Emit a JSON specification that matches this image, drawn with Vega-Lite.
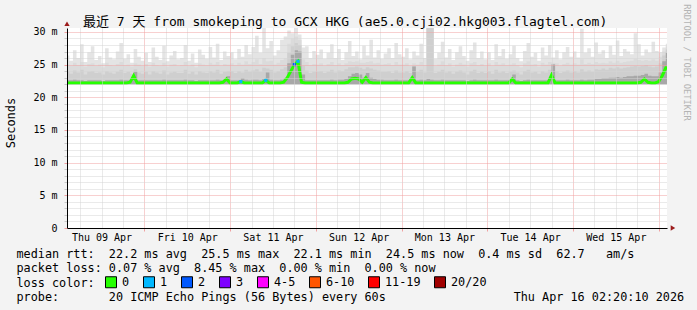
{
  "$schema": "https://vega.github.io/schema/vega-lite/v6.json",
  "width": 600,
  "height": 200,
  "autosize": {"type": "none"},
  "padding": {"left": 67, "top": 28, "right": 30, "bottom": 82},
  "background": "#f3f3f3",
  "config": {
    "font": "DejaVu Sans Mono",
    "view": {"stroke": null, "fill": "white"}
  },
  "title": {
    "text": "最近 7 天 from smokeping to GCX HKG (ae5.0.cji02.hkg003.flagtel.com)",
    "anchor": "start",
    "frame": "group",
    "dx": 16,
    "offset": -35,
    "baseline": "alphabetic",
    "font": "DejaVu Sans Mono, Noto Sans CJK SC",
    "fontSize": 13,
    "fontWeight": "normal",
    "color": "#000000"
  },
  "data": {
    "values": [
      {"h":2,"m":22.2,"l":"0","d":22.6,"a":23.9,"b":25.0,"c":26.4},
      {"h":3,"m":22.2,"l":"0","d":22.6,"a":23.6,"b":24.8,"c":25.6},
      {"h":4,"m":22.2,"l":"0","d":22.7,"a":24.1,"b":25.3,"c":27.2},
      {"h":5,"m":22.2,"l":"0","d":22.6,"a":23.8,"b":24.9,"c":26.0},
      {"h":6,"m":22.2,"l":"0","d":22.6,"a":24.2,"b":25.4,"c":28.1},
      {"h":7,"m":22.2,"l":"0","d":22.5,"a":23.5,"b":24.7,"c":25.4},
      {"h":8,"m":22.2,"l":"0","d":22.6,"a":23.9,"b":25.1,"c":26.9},
      {"h":9,"m":22.2,"l":"0","d":22.6,"a":24.0,"b":25.2,"c":27.8},
      {"h":10,"m":22.2,"l":"0","d":22.6,"a":23.7,"b":24.8,"c":25.7},
      {"h":11,"m":22.2,"l":"0","d":22.6,"a":23.8,"b":25.0,"c":26.3},
      {"h":12,"m":22.2,"l":"0","d":22.5,"a":23.5,"b":24.6,"c":25.2},
      {"h":13,"m":22.2,"l":"0","d":22.6,"a":24.0,"b":25.3,"c":27.5},
      {"h":14,"m":22.2,"l":"0","d":22.6,"a":23.8,"b":24.9,"c":26.1},
      {"h":15,"m":22.2,"l":"0","d":22.6,"a":23.6,"b":24.8,"c":25.8},
      {"h":16,"m":22.2,"l":"0","d":22.6,"a":23.9,"b":25.1,"c":27.0},
      {"h":17,"m":22.2,"l":"0","d":22.7,"a":24.2,"b":25.4,"c":28.3},
      {"h":18,"m":22.2,"l":"0","d":22.6,"a":23.7,"b":24.9,"c":25.9},
      {"h":19,"m":22.2,"l":"0","d":22.6,"a":23.9,"b":25.0,"c":26.6},
      {"h":20,"m":22.3,"l":"0","d":22.7,"a":23.6,"b":24.7,"c":25.3},
      {"h":21,"m":23.3,"l":"0","d":23.9,"a":24.3,"b":25.2,"c":27.4},
      {"h":22,"m":22.2,"l":"0","d":22.6,"a":23.8,"b":25.0,"c":26.2},
      {"h":23,"m":22.2,"l":"0","d":22.6,"a":23.6,"b":24.8,"c":25.6},
      {"h":24,"m":22.2,"l":"0","d":22.6,"a":23.9,"b":25.1,"c":26.8},
      {"h":25,"m":22.2,"l":"0","d":22.6,"a":23.5,"b":24.7,"c":25.4},
      {"h":26,"m":22.2,"l":"0","d":22.6,"a":24.0,"b":25.3,"c":27.6},
      {"h":27,"m":22.2,"l":"0","d":22.6,"a":23.8,"b":24.9,"c":26.2},
      {"h":28,"m":22.2,"l":"0","d":22.6,"a":23.6,"b":24.8,"c":25.7},
      {"h":29,"m":22.2,"l":"0","d":22.7,"a":24.1,"b":25.3,"c":27.9},
      {"h":30,"m":22.2,"l":"0","d":22.6,"a":23.5,"b":24.7,"c":25.5},
      {"h":31,"m":22.2,"l":"0","d":22.6,"a":23.8,"b":25.0,"c":26.4},
      {"h":32,"m":22.2,"l":"0","d":22.6,"a":23.9,"b":25.1,"c":27.1},
      {"h":33,"m":22.2,"l":"0","d":22.6,"a":23.7,"b":24.8,"c":25.8},
      {"h":34,"m":22.2,"l":"0","d":22.6,"a":23.7,"b":24.9,"c":26.0},
      {"h":35,"m":22.2,"l":"0","d":22.7,"a":24.2,"b":25.4,"c":28.0},
      {"h":36,"m":22.2,"l":"0","d":22.6,"a":23.6,"b":24.8,"c":25.6},
      {"h":37,"m":22.2,"l":"0","d":22.6,"a":23.9,"b":25.0,"c":26.7},
      {"h":38,"m":22.2,"l":"0","d":22.5,"a":23.5,"b":24.6,"c":25.3},
      {"h":39,"m":22.2,"l":"0","d":22.6,"a":24.0,"b":25.2,"c":27.3},
      {"h":40,"m":22.2,"l":"0","d":22.6,"a":23.8,"b":25.0,"c":26.5},
      {"h":41,"m":22.2,"l":"0","d":22.6,"a":23.7,"b":24.9,"c":25.9},
      {"h":42,"m":22.2,"l":"0","d":22.6,"a":24.0,"b":25.3,"c":27.7},
      {"h":43,"m":22.2,"l":"0","d":22.6,"a":23.8,"b":25.0,"c":26.1},
      {"h":44,"m":22.2,"l":"0","d":22.7,"a":24.2,"b":25.4,"c":28.2},
      {"h":45,"m":22.2,"l":"0","d":22.6,"a":23.6,"b":24.8,"c":25.7},
      {"h":46,"m":22.3,"l":"0","d":22.7,"a":23.9,"b":25.1,"c":27.0},
      {"h":47,"m":22.8,"l":"0","d":23.2,"a":24.0,"b":25.0,"c":26.3},
      {"h":48,"m":22.2,"l":"0","d":22.6,"a":24.0,"b":25.2,"c":26.9},
      {"h":49,"m":22.2,"l":"0","d":22.6,"a":23.7,"b":24.9,"c":25.8},
      {"h":50,"m":22.2,"l":"0","d":22.6,"a":24.0,"b":25.3,"c":27.4},
      {"h":51,"m":22.4,"l":"1","d":22.9,"a":23.8,"b":25.0,"c":26.2},
      {"h":52,"m":22.2,"l":"0","d":22.7,"a":24.2,"b":25.5,"c":28.0},
      {"h":53,"m":22.2,"l":"0","d":22.6,"a":23.9,"b":25.1,"c":26.6},
      {"h":54,"m":22.2,"l":"0","d":22.7,"a":24.1,"b":25.4,"c":27.7},
      {"h":55,"m":22.2,"l":"0","d":22.7,"a":24.3,"b":25.8,"c":29.4},
      {"h":56,"m":22.2,"l":"0","d":22.6,"a":23.9,"b":25.1,"c":26.8},
      {"h":57,"m":22.2,"l":"0","d":22.8,"a":24.5,"b":26.0,"c":30.8},
      {"h":58,"m":22.6,"l":"1","d":23.8,"a":24.4,"b":25.5,"c":27.5},
      {"h":59,"m":22.2,"l":"0","d":22.7,"a":24.2,"b":25.6,"c":28.6},
      {"h":60,"m":22.2,"l":"0","d":22.6,"a":23.8,"b":25.0,"c":26.4},
      {"h":61,"m":22.2,"l":"0","d":22.6,"a":24.0,"b":25.3,"c":27.2},
      {"h":62,"m":22.2,"l":"0","d":22.7,"a":24.3,"b":25.7,"c":28.8},
      {"h":63,"m":22.3,"l":"0","d":22.9,"a":24.6,"b":26.0,"c":29.3},
      {"h":64,"m":23.0,"l":"0","d":25.2,"a":26.8,"b":28.2,"c":30.2},
      {"h":65,"m":24.0,"l":"0","d":26.5,"a":27.8,"b":29.0,"c":29.8},
      {"h":66,"m":25.0,"l":"2","d":27.2,"a":28.3,"b":29.3,"c":30.8},
      {"h":67,"m":25.5,"l":"1","d":27.0,"a":28.0,"b":28.8,"c":29.6},
      {"h":68,"m":22.3,"l":"0","d":23.5,"a":24.8,"b":25.8,"c":27.6},
      {"h":69,"m":22.2,"l":"0","d":22.6,"a":24.1,"b":25.4,"c":27.8},
      {"h":70,"m":22.2,"l":"0","d":22.6,"a":23.7,"b":24.9,"c":26.0},
      {"h":71,"m":22.2,"l":"0","d":22.6,"a":23.9,"b":25.1,"c":27.1},
      {"h":72,"m":22.2,"l":"0","d":22.6,"a":23.9,"b":25.0,"c":26.5},
      {"h":73,"m":22.2,"l":"0","d":22.6,"a":24.0,"b":25.2,"c":27.3},
      {"h":74,"m":22.2,"l":"0","d":22.6,"a":23.7,"b":24.8,"c":25.9},
      {"h":75,"m":22.2,"l":"0","d":22.6,"a":23.9,"b":25.1,"c":26.8},
      {"h":76,"m":22.2,"l":"0","d":22.7,"a":24.2,"b":25.4,"c":28.1},
      {"h":77,"m":22.2,"l":"0","d":22.6,"a":23.8,"b":24.9,"c":26.0},
      {"h":78,"m":22.2,"l":"0","d":22.7,"a":24.1,"b":25.2,"c":27.4},
      {"h":79,"m":22.2,"l":"0","d":22.7,"a":24.0,"b":24.9,"c":25.7},
      {"h":80,"m":22.2,"l":"0","d":22.8,"a":24.3,"b":25.2,"c":26.9},
      {"h":81,"m":22.3,"l":"0","d":23.2,"a":24.6,"b":25.5,"c":28.6},
      {"h":82,"m":22.8,"l":"0","d":23.6,"a":24.6,"b":25.4,"c":26.3},
      {"h":83,"m":22.9,"l":"0","d":23.7,"a":24.7,"b":25.5,"c":27.0},
      {"h":84,"m":22.8,"l":"0","d":23.5,"a":24.5,"b":25.3,"c":25.8},
      {"h":85,"m":22.3,"l":"0","d":23.0,"a":24.3,"b":25.3,"c":27.9},
      {"h":86,"m":23.0,"l":"0","d":23.7,"a":24.6,"b":25.4,"c":26.4},
      {"h":87,"m":22.3,"l":"0","d":23.0,"a":24.4,"b":25.5,"c":28.8},
      {"h":88,"m":22.2,"l":"0","d":22.8,"a":24.2,"b":25.2,"c":26.1},
      {"h":89,"m":22.2,"l":"0","d":22.7,"a":24.1,"b":25.3,"c":27.2},
      {"h":90,"m":22.2,"l":"0","d":22.7,"a":23.9,"b":25.0,"c":25.9},
      {"h":91,"m":22.2,"l":"0","d":22.6,"a":23.9,"b":25.1,"c":26.7},
      {"h":92,"m":22.2,"l":"0","d":22.6,"a":24.0,"b":25.2,"c":27.5},
      {"h":93,"m":22.2,"l":"0","d":22.6,"a":23.7,"b":24.9,"c":26.0},
      {"h":94,"m":22.2,"l":"0","d":22.7,"a":24.1,"b":25.4,"c":28.3},
      {"h":95,"m":22.2,"l":"0","d":22.6,"a":23.8,"b":25.0,"c":26.6},
      {"h":96,"m":22.2,"l":"0","d":22.6,"a":23.8,"b":25.0,"c":26.2},
      {"h":97,"m":22.2,"l":"0","d":22.6,"a":24.0,"b":25.2,"c":27.5},
      {"h":98,"m":22.2,"l":"0","d":22.6,"a":23.7,"b":24.8,"c":25.8},
      {"h":99,"m":23.0,"l":"0","d":24.7,"a":24.8,"b":25.2,"c":27.0},
      {"h":100,"m":22.2,"l":"0","d":22.6,"a":23.9,"b":25.0,"c":26.4},
      {"h":101,"m":22.2,"l":"0","d":22.7,"a":24.2,"b":25.4,"c":28.2},
      {"h":102,"m":22.2,"l":"0","d":22.6,"a":23.8,"b":24.9,"c":26.0},
      {"h":103,"m":22.2,"l":"0","d":22.8,"a":31.0,"b":31.0,"c":31.0},
      {"h":104,"m":22.2,"l":"0","d":22.7,"a":31.0,"b":31.0,"c":31.0},
      {"h":105,"m":22.2,"l":"0","d":22.6,"a":23.7,"b":24.8,"c":25.9},
      {"h":106,"m":22.2,"l":"0","d":22.6,"a":23.9,"b":25.0,"c":26.8},
      {"h":107,"m":22.2,"l":"0","d":22.7,"a":24.2,"b":25.5,"c":28.5},
      {"h":108,"m":22.2,"l":"0","d":22.6,"a":23.8,"b":24.9,"c":26.1},
      {"h":109,"m":22.2,"l":"0","d":22.6,"a":24.0,"b":25.2,"c":27.4},
      {"h":110,"m":22.2,"l":"0","d":22.6,"a":23.6,"b":24.7,"c":25.7},
      {"h":111,"m":22.2,"l":"0","d":22.6,"a":23.9,"b":25.0,"c":26.9},
      {"h":112,"m":22.2,"l":"0","d":22.6,"a":24.1,"b":25.3,"c":27.8},
      {"h":113,"m":22.2,"l":"0","d":22.6,"a":23.8,"b":25.0,"c":26.3},
      {"h":114,"m":22.2,"l":"0","d":22.5,"a":23.5,"b":24.7,"c":25.6},
      {"h":115,"m":22.2,"l":"0","d":22.6,"a":24.0,"b":25.2,"c":27.2},
      {"h":116,"m":22.2,"l":"0","d":22.7,"a":24.2,"b":25.4,"c":28.4},
      {"h":117,"m":22.2,"l":"0","d":22.6,"a":23.7,"b":24.9,"c":26.0},
      {"h":118,"m":22.2,"l":"0","d":22.6,"a":23.9,"b":25.1,"c":27.0},
      {"h":119,"m":22.2,"l":"0","d":22.6,"a":23.7,"b":24.8,"c":25.8},
      {"h":120,"m":22.2,"l":"0","d":22.6,"a":24.0,"b":25.2,"c":26.9},
      {"h":121,"m":22.2,"l":"0","d":22.6,"a":23.6,"b":24.8,"c":25.7},
      {"h":122,"m":22.2,"l":"0","d":22.7,"a":24.2,"b":25.4,"c":28.1},
      {"h":123,"m":22.2,"l":"0","d":22.6,"a":23.8,"b":25.0,"c":26.3},
      {"h":124,"m":22.2,"l":"0","d":22.6,"a":24.0,"b":25.2,"c":27.4},
      {"h":125,"m":22.2,"l":"0","d":22.6,"a":23.7,"b":24.9,"c":25.9},
      {"h":126,"m":22.2,"l":"0","d":22.6,"a":23.9,"b":25.0,"c":26.6},
      {"h":127,"m":22.8,"l":"0","d":23.5,"a":24.1,"b":25.2,"c":27.9},
      {"h":128,"m":22.2,"l":"0","d":22.6,"a":23.8,"b":24.9,"c":26.0},
      {"h":129,"m":22.2,"l":"0","d":22.5,"a":23.5,"b":24.6,"c":25.5},
      {"h":130,"m":22.2,"l":"0","d":22.6,"a":24.0,"b":25.2,"c":27.1},
      {"h":131,"m":22.2,"l":"0","d":22.7,"a":24.2,"b":25.5,"c":28.3},
      {"h":132,"m":22.2,"l":"0","d":22.6,"a":23.8,"b":25.0,"c":26.2},
      {"h":133,"m":22.2,"l":"0","d":22.6,"a":23.9,"b":25.1,"c":26.8},
      {"h":134,"m":22.2,"l":"0","d":22.6,"a":23.6,"b":24.7,"c":25.6},
      {"h":135,"m":22.2,"l":"0","d":22.6,"a":24.0,"b":25.3,"c":27.6},
      {"h":136,"m":22.2,"l":"0","d":22.6,"a":23.8,"b":25.0,"c":26.4},
      {"h":137,"m":22.2,"l":"0","d":22.7,"a":24.2,"b":25.4,"c":28.0},
      {"h":138,"m":23.4,"l":"0","d":25.0,"a":25.1,"b":25.3,"c":26.1},
      {"h":139,"m":22.2,"l":"0","d":22.6,"a":24.0,"b":25.2,"c":27.2},
      {"h":140,"m":22.2,"l":"0","d":22.6,"a":23.7,"b":24.8,"c":25.8},
      {"h":141,"m":22.2,"l":"0","d":22.6,"a":23.9,"b":25.1,"c":26.9},
      {"h":142,"m":22.2,"l":"0","d":22.7,"a":24.1,"b":25.3,"c":27.7},
      {"h":143,"m":22.2,"l":"0","d":22.6,"a":23.8,"b":25.0,"c":26.2},
      {"h":144,"m":22.2,"l":"0","d":22.6,"a":24.0,"b":25.2,"c":27.0},
      {"h":145,"m":22.2,"l":"0","d":22.6,"a":23.8,"b":25.0,"c":26.1},
      {"h":146,"m":22.2,"l":"0","d":22.7,"a":24.3,"b":25.8,"c":30.5},
      {"h":147,"m":22.2,"l":"0","d":22.6,"a":23.9,"b":25.1,"c":26.8},
      {"h":148,"m":22.2,"l":"0","d":22.7,"a":24.1,"b":25.3,"c":27.5},
      {"h":149,"m":22.2,"l":"0","d":22.7,"a":23.9,"b":25.1,"c":26.2},
      {"h":150,"m":22.2,"l":"0","d":22.8,"a":24.3,"b":25.4,"c":28.4},
      {"h":151,"m":22.2,"l":"0","d":22.8,"a":24.2,"b":25.2,"c":26.7},
      {"h":152,"m":22.2,"l":"0","d":22.9,"a":24.4,"b":25.3,"c":27.2},
      {"h":153,"m":22.2,"l":"0","d":22.9,"a":24.2,"b":25.2,"c":26.0},
      {"h":154,"m":22.2,"l":"0","d":23.0,"a":24.5,"b":25.5,"c":27.9},
      {"h":155,"m":22.2,"l":"0","d":23.0,"a":24.4,"b":25.3,"c":26.5},
      {"h":156,"m":22.2,"l":"0","d":23.1,"a":24.6,"b":25.6,"c":28.7},
      {"h":157,"m":22.2,"l":"0","d":23.0,"a":24.4,"b":25.3,"c":26.3},
      {"h":158,"m":22.2,"l":"0","d":23.1,"a":24.5,"b":25.4,"c":27.4},
      {"h":159,"m":22.2,"l":"0","d":23.2,"a":24.6,"b":25.5,"c":27.0},
      {"h":160,"m":22.2,"l":"0","d":23.2,"a":24.7,"b":25.6,"c":26.6},
      {"h":161,"m":22.2,"l":"0","d":23.3,"a":24.8,"b":25.9,"c":29.8},
      {"h":162,"m":22.2,"l":"0","d":23.3,"a":24.7,"b":25.7,"c":28.1},
      {"h":163,"m":22.3,"l":"0","d":23.4,"a":24.8,"b":25.6,"c":26.4},
      {"h":164,"m":22.8,"l":"0","d":23.6,"a":24.9,"b":25.7,"c":27.3},
      {"h":165,"m":22.3,"l":"0","d":23.3,"a":24.7,"b":25.6,"c":26.8},
      {"h":166,"m":22.2,"l":"0","d":23.2,"a":24.6,"b":25.8,"c":28.5},
      {"h":167,"m":22.2,"l":"0","d":23.2,"a":24.7,"b":25.6,"c":27.1},
      {"h":168,"m":22.4,"l":"0","d":23.8,"a":25.2,"b":26.2,"c":26.9},
      {"h":169,"m":23.3,"l":"0","d":25.5,"a":26.4,"b":27.0,"c":27.6},
      {"h":170,"m":24.5,"l":"0","d":26.8,"a":27.3,"b":27.8,"c":28.2},
      {"h":171,"m":24.5,"l":"0","d":26.8,"a":27.3,"b":27.8,"c":28.2}
    ]
  },
  "encoding": {
    "x": {
      "field": "h", "type": "quantitative",
      "scale": {"domain": [2.333, 170.333], "nice": false, "zero": false},
      "axis": {
        "values": [6,12,18,24,30,36,42,48,54,60,66,72,78,84,90,96,102,108,114,120,126,132,138,144,150,156,162,168],
        "labelExpr": "round(datum.value) == 12 ? 'Thu 09 Apr' : round(datum.value) == 36 ? 'Fri 10 Apr' : round(datum.value) == 60 ? 'Sat 11 Apr' : round(datum.value) == 84 ? 'Sun 12 Apr' : round(datum.value) == 108 ? 'Mon 13 Apr' : round(datum.value) == 132 ? 'Tue 14 Apr' : round(datum.value) == 156 ? 'Wed 15 Apr' : ''",
        "labelFont": "DejaVu Sans Mono", "labelFontSize": 10, "labelColor": "#000000",
        "labelPadding": 1, "labelOverlap": false, "labelFlush": false, "labelBound": false,
        "grid": true,
        "gridColor": {"condition": {"test": "round(datum.value) % 24 == 0", "value": "#f0a0a0"}, "value": "#d4d4d4"},
        "gridDash": [1, 1], "gridWidth": 1, "gridOpacity": 1,
        "tickSize": 3,
        "tickColor": {"condition": {"test": "round(datum.value) % 24 == 0", "value": "#f0a0a0"}, "value": "#ffffff00"},
        "domainColor": "#000000", "domainWidth": 1,
        "zindex": 1,
        "title": [
          "median\u00a0rtt:\u00a0\u00a022.2\u00a0ms\u00a0avg\u00a0\u00a025.5\u00a0ms\u00a0max\u00a0\u00a022.1\u00a0ms\u00a0min\u00a0\u00a024.5\u00a0ms\u00a0now\u00a0\u00a00.4\u00a0ms\u00a0sd\u00a0\u00a062.7\u00a0\u00a0\u00a0am/s",
          "packet\u00a0loss:\u00a00.07\u00a0%\u00a0avg\u00a0\u00a08.45\u00a0%\u00a0max\u00a0\u00a00.00\u00a0%\u00a0min\u00a0\u00a00.00\u00a0%\u00a0now",
          "loss\u00a0color:",
          "probe:\u00a0\u00a0\u00a0\u00a0\u00a0\u00a0\u00a020\u00a0ICMP\u00a0Echo\u00a0Pings\u00a0(56\u00a0Bytes)\u00a0every\u00a060s\u00a0\u00a0\u00a0\u00a0\u00a0\u00a0\u00a0\u00a0\u00a0\u00a0\u00a0\u00a0\u00a0\u00a0\u00a0\u00a0\u00a0\u00a0Thu\u00a0Apr\u00a016\u00a002:20:10\u00a02026"
        ],
        "titleFont": "DejaVu Sans Mono", "titleFontSize": 11.8, "titleFontWeight": "normal", "titleColor": "#000000",
        "titleAlign": "left", "titleAnchor": "start", "titleX": -51, "titleY": 29.7,
        "titleBaseline": "alphabetic", "titleLineHeight": 14.2, "titleAngle": 0
      }
    }
  },
  "layer": [
    {
      "mark": {"type": "area", "interpolate": "step-after", "color": "#e4e4e4", "clip": true},
      "encoding": {
        "y": {
          "field": "c", "type": "quantitative",
          "scale": {"domain": [0, 30.6], "nice": false},
          "axis": {
            "orient": "left",
            "values": [0,1,2,3,4,5,6,7,8,9,10,11,12,13,14,15,16,17,18,19,20,21,22,23,24,25,26,27,28,29,30],
            "labelExpr": "datum.value % 5 == 0 ? (datum.value == 0 ? '0' : datum.value + ' m') : ''",
            "labelFont": "DejaVu Sans Mono", "labelFontSize": 10, "labelColor": "#000000", "labelPadding": 7,
            "labelOverlap": false, "labelBound": false, "labelFlush": false,
            "grid": true,
            "gridColor": {"condition": {"test": "datum.value % 5 == 0", "value": "#f0a0a0"}, "value": "#d4d4d4"},
            "gridDash": [1, 1], "gridWidth": 1, "gridOpacity": 1,
            "tickSize": 3,
            "tickColor": {"condition": {"test": "datum.value % 5 == 0", "value": "#f0a0a0"}, "value": "#c8c8c8"},
            "domainColor": "#000000", "domainWidth": 1,
            "zindex": 1,
            "title": "Seconds",
            "titleFont": "DejaVu Sans Mono", "titleFontSize": 12, "titleFontWeight": "normal", "titleColor": "#000000",
            "titleAngle": -90, "titleX": -56.5, "titleY": 94.5, "titleAlign": "center", "titleBaseline": "middle"
          }
        },
        "y2": {"datum": 22.0}
      }
    },
    {
      "mark": {"type": "area", "interpolate": "step-after", "color": "#dbdbdb", "clip": true},
      "encoding": {
        "y": {"field": "b", "type": "quantitative", "axis": null},
        "y2": {"datum": 22.0}
      }
    },
    {
      "mark": {"type": "area", "interpolate": "step-after", "color": "#cfcfcf", "clip": true},
      "encoding": {
        "y": {"field": "a", "type": "quantitative", "axis": null},
        "y2": {"datum": 22.0}
      }
    },
    {
      "mark": {"type": "area", "interpolate": "step-after", "color": "#a8a8a8", "clip": true},
      "encoding": {
        "y": {"field": "d", "type": "quantitative", "axis": null},
        "y2": {"datum": 22.0}
      }
    },
    {
      "mark": {"type": "line", "color": "#26ff00", "strokeWidth": 3, "clip": true},
      "encoding": {
        "y": {"field": "m", "type": "quantitative", "axis": null}
      }
    },
    {
      "transform": [{"filter": "datum.l != '0'"}],
      "mark": {"type": "point", "shape": "square", "filled": true, "size": 10, "opacity": 1},
      "encoding": {
        "y": {
          "field": "m", "type": "quantitative",
          "axis": {
            "orient": "right", "title": "RRDTOOL / TOBI OETIKER",
            "labels": false, "ticks": false, "domain": false, "grid": false,
            "titleAngle": 90, "titleX": 19, "titleY": 34, "titleAlign": "center", "titleBaseline": "middle",
            "titleFont": "DejaVu Sans Mono", "titleFontSize": 8.8, "titleFontWeight": "normal", "titleColor": "#b4b4b4"
          }
        },
        "color": {
          "field": "l", "type": "nominal",
          "scale": {
            "domain": ["0", "1", "2", "3", "4-5", "6-10", "11-19", "20/20"],
            "range": ["#26ff00", "#00b8ff", "#0059ff", "#7e00ff", "#ff00ff", "#ff5500", "#ff0000", "#a10000"]
          },
          "legend": {
            "orient": "none", "legendX": 38, "legendY": 248,
            "direction": "horizontal", "columns": 8, "title": null,
            "symbolType": "square", "symbolSize": 121,
            "symbolStrokeColor": "#000000", "symbolStrokeWidth": 1, "symbolOpacity": 1,
            "labelFont": "DejaVu Sans Mono", "labelFontSize": 11.8, "labelColor": "#000000",
            "labelOffset": 5, "columnPadding": 11, "padding": 0, "labelLimit": 100
          }
        }
      }
    },
    {
      "data": {"values": [{"h": 172, "v": 0}]},
      "mark": {"type": "point", "shape": "triangle-right", "filled": true, "size": 28, "color": "#9c1c1c", "opacity": 1},
      "encoding": {
        "y": {"field": "v", "type": "quantitative", "axis": null}
      }
    },
    {
      "data": {"values": [{"h": 2.333, "v": 31.26}]},
      "mark": {"type": "point", "shape": "triangle-up", "filled": true, "size": 28, "color": "#9c1c1c", "opacity": 1},
      "encoding": {
        "y": {"field": "v", "type": "quantitative", "axis": null}
      }
    }
  ],
  "resolve": {"axis": {"y": "independent"}}
}
